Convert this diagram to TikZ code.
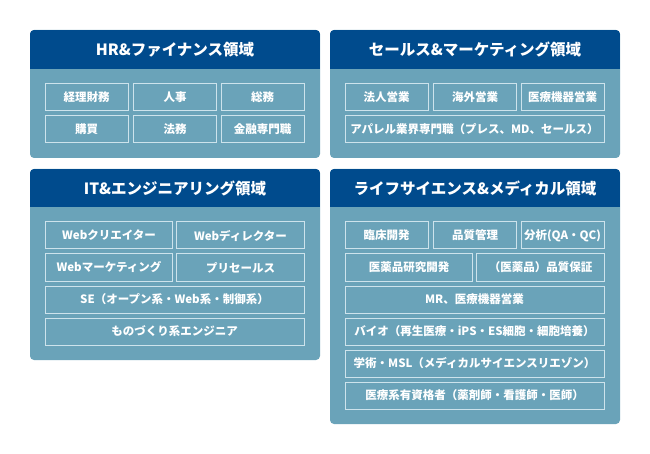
\documentclass[tikz,border=0pt]{standalone}
\usepackage{fontspec}
\setmainfont{Noto Sans CJK JP}
\definecolor{headc}{HTML}{004B8D}
\definecolor{bodyc}{HTML}{6AA3B9}
\definecolor{linec}{HTML}{CDE3EC}
\begin{document}
\begin{tikzpicture}[x=1pt,y=-1pt,
  headtext/.style={text=white,font=\fontsize{15.5}{18}\selectfont\bfseries,inner sep=0pt},
  cell/.style={draw=linec,line width=1pt,text=white,font=\fontsize{11.5}{13}\selectfont\bfseries,inner sep=0pt,minimum height=27pt},
  c3/.style={cell,minimum width=83pt},
  c2/.style={cell,minimum width=127.5pt},
  c1/.style={cell,minimum width=259pt}]
\useasboundingbox (0,0) rectangle (650,454);
% panel drawing macro-like code
\foreach \xa/\ya/\xb/\yb/\yh in {30/30/320/158/69, 330/30/620/158/69, 30/169/320/360/207, 330/169/620/424/207}{
  \fill[bodyc,rounded corners=4pt] (\xa,\ya) rectangle (\xb,\yb);
  \begin{scope}
    \clip[rounded corners=4pt] (\xa,\ya) rectangle (\xb,\yb);
    \fill[headc] (\xa,\ya) rectangle (\xb,\yh);
  \end{scope}
}
% headers
\node[headtext] (h1) at (175,49.5) {HR\&ファイナンス領域};
\node[headtext] (h2) at (475,49.5) {セールス\&マーケティング領域};
\node[headtext] (h3) at (175,188) {IT\&エンジニアリング領域};
\node[headtext] (h4) at (475,188) {ライフサイエンス\&メディカル領域};
% panel 1
\node[c3] (a1) at (86.5,97.5) {経理財務};
\node[c3] (a2) at (175,97.5) {人事};
\node[c3] (a3) at (262.5,97.5) {総務};
\node[c3] (a4) at (86.5,129.5) {購買};
\node[c3] (a5) at (175,129.5) {法務};
\node[c3] (a6) at (262.5,129.5) {金融専門職};
% panel 2
\node[c3] (b1) at (386.5,97.5) {法人営業};
\node[c3] (b2) at (475,97.5) {海外営業};
\node[c3] (b3) at (562.5,97.5) {医療機器営業};
\node[c1] (b4) at (474.5,129.5) {アパレル業界専門職（プレス、MD、セールス）};
% panel 3
\node[c2] (i1) at (109,235.5) {Webクリエイター};
\node[c2] (i2) at (240.5,235.5) {Webディレクター};
\node[c2] (i3) at (109,267.5) {Webマーケティング};
\node[c2] (i4) at (240.5,267.5) {プリセールス};
\node[c1] (i5) at (174.5,299.5) {SE（オープン系・Web系・制御系）};
\node[c1] (i6) at (174.5,331.5) {ものづくり系エンジニア};
% panel 4
\node[c3] (l1) at (386.5,235.5) {臨床開発};
\node[c3] (l2) at (475,235.5) {品質管理};
\node[c3] (l3) at (562.5,235.5) {分析(QA・QC)};
\node[c2] (l4) at (409,267.5) {医薬品研究開発};
\node[c2] (l5) at (540.5,267.5) {（医薬品）品質保証};
\node[c1] (l6) at (474.5,299.5) {MR、医療機器営業};
\node[c1] (l7) at (474.5,331.5) {バイオ（再生医療・iPS・ES細胞・細胞培養）};
\node[c1] (l8) at (474.5,363.5) {学術・MSL（メディカルサイエンスリエゾン）};
\node[c1] (l9) at (474.5,395.5) {医療系有資格者（薬剤師・看護師・医師）};
\end{tikzpicture}
\end{document}
